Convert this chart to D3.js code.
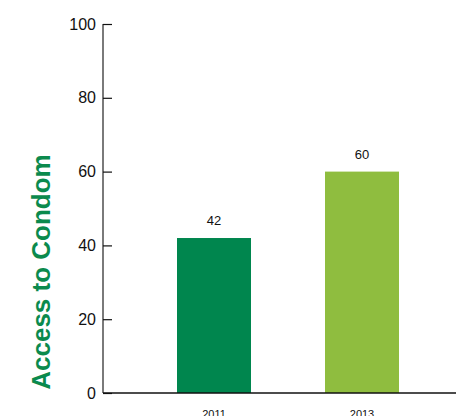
<!DOCTYPE html>
<html>
<head>
<meta charset="utf-8">
<script src="https://cdn.jsdelivr.net/npm/d3@7"></script>
<style>
  html, body { margin: 0; padding: 0; background: #fff; }
  svg { display: block; }
  text { font-family: "Liberation Sans", Arial, Helvetica, sans-serif; }
</style>
</head>
<body>
<svg id="chart" width="456" height="416"></svg>
<script>
// Survey years and share with access to condoms (%)
const years = ["2011", "2013"];
const values = [42, 60];
const barColors = ["#00864e", "#8fbd3f"];
const yTicks = [0, 20, 40, 60, 80, 100];
const yTitle = "Access to Condom";

const svg = d3.select("#chart");

const y = d3.scaleLinear().domain([0, 100]).range([393, 24]);
const x = d3.scaleBand().domain(years).range([140, 436])
  .paddingInner(0.5).paddingOuter(0.25);

// Bars
svg.append("g").selectAll("rect")
  .data(years)
  .join("rect")
  .attr("x", d => x(d))
  .attr("width", x.bandwidth())
  .attr("y", (d, i) => y(values[i]))
  .attr("height", (d, i) => y(0) - y(values[i]))
  .attr("fill", (d, i) => barColors[i]);

// Value labels above bars
svg.append("g").selectAll("text")
  .data(years)
  .join("text")
  .attr("x", d => x(d) + x.bandwidth() / 2)
  .attr("y", (d, i) => y(values[i]) - 13)
  .attr("text-anchor", "middle")
  .attr("font-size", 13)
  .attr("fill", "#111")
  .text((d, i) => values[i]);

// Y axis: ticks point inward
const yAxis = svg.append("g")
  .attr("transform", "translate(103,0)")
  .call(d3.axisLeft(y).tickValues(yTicks).tickSize(-9).tickPadding(7));
yAxis.select(".domain")
  .attr("d", `M0,${y(100)}V${y(0)}`)
  .attr("stroke", "#7a7a7a")
  .attr("stroke-width", 2);
yAxis.selectAll(".tick line").attr("stroke", "#111").attr("stroke-width", 1.2);
yAxis.selectAll(".tick text")
  .attr("font-size", 16)
  .attr("fill", "#111")
  .attr("font-family", "Liberation Sans, Arial, sans-serif");

// X axis baseline and year labels
const xAxis = svg.append("g")
  .attr("transform", `translate(0,${y(0)})`)
  .call(d3.axisBottom(x).tickSize(0).tickPadding(17));
xAxis.select(".domain")
  .attr("d", "M103,0H456")
  .attr("stroke", "#111")
  .attr("stroke-width", 1.5);
xAxis.selectAll(".tick text")
  .attr("font-size", 11)
  .attr("fill", "#111")
  .attr("font-family", "Liberation Sans, Arial, sans-serif");

// Y axis title
svg.append("text")
  .attr("transform", "translate(50,272) rotate(-90)")
  .attr("text-anchor", "middle")
  .attr("font-size", 26)
  .attr("font-weight", "bold")
  .attr("fill", "#0b8a4d")
  .text(yTitle);
</script>
</body>
</html>
